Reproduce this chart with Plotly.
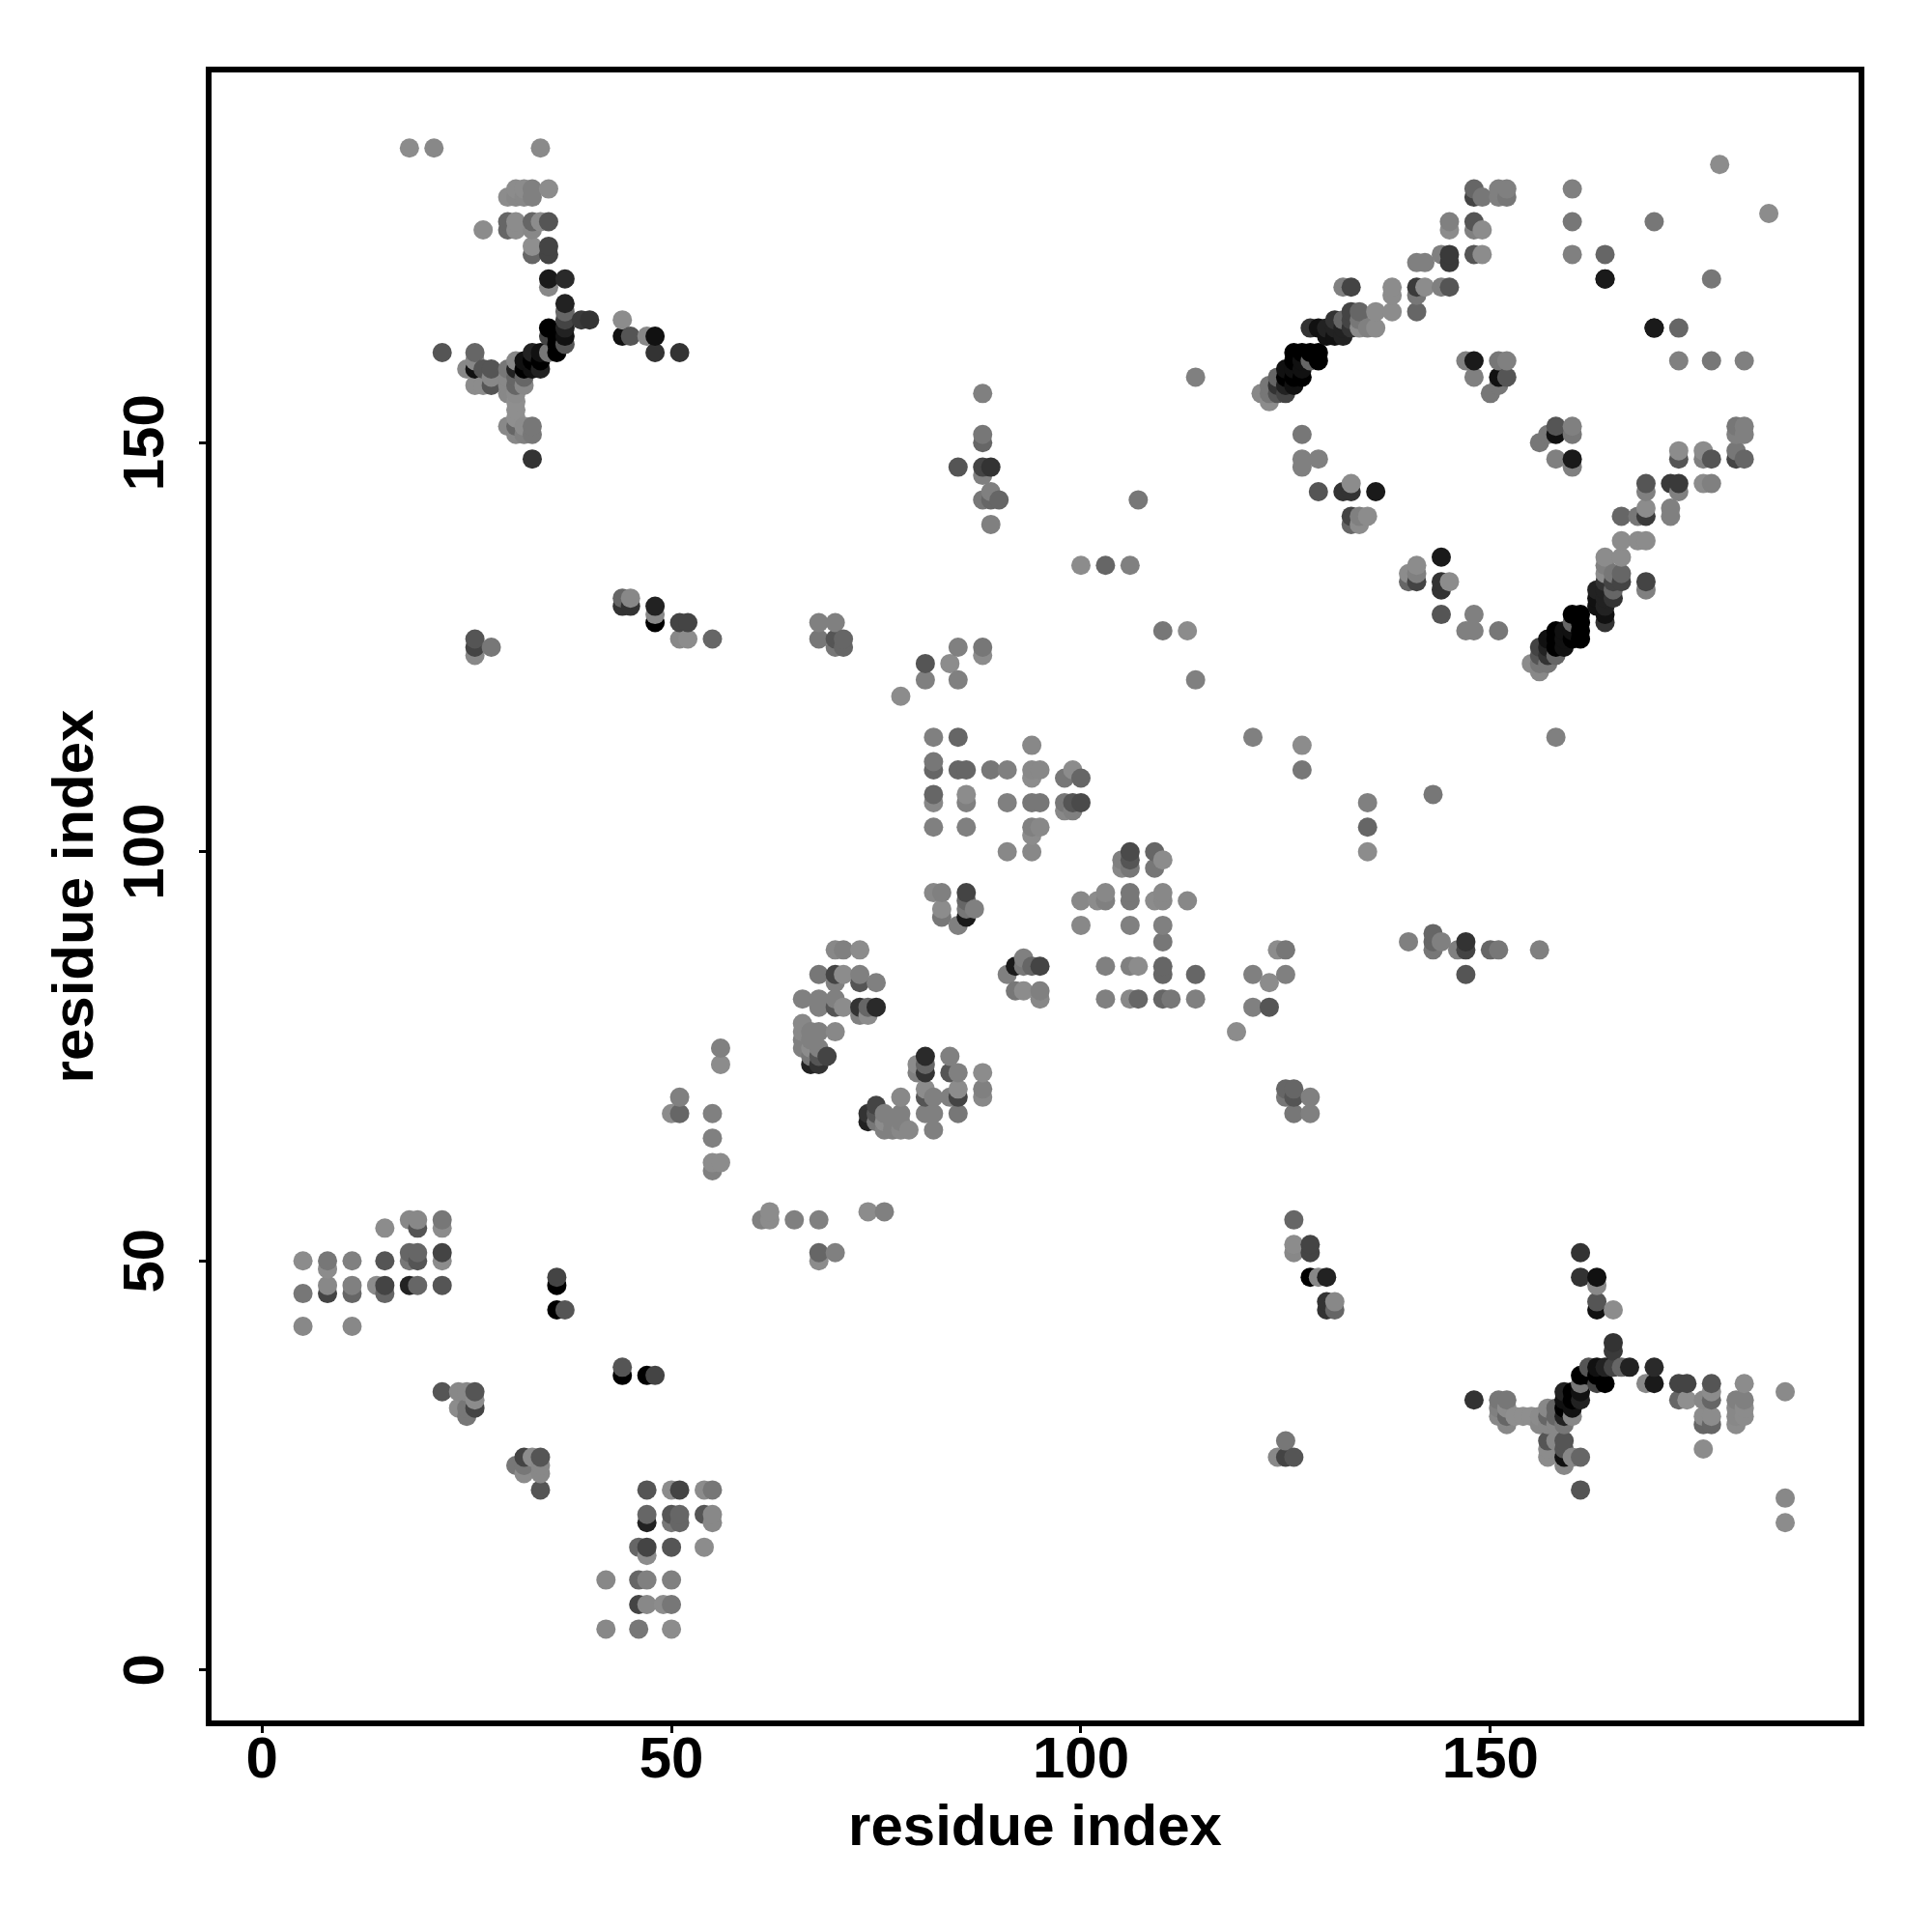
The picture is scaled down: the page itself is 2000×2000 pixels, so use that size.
import plotly.graph_objects as go

# Each contact is (i, j, grey level) with i < j; the map is symmetric, so it is also shown at (j, i).
far_corner = [(18, 186, 140), (21, 186, 136), (34, 186, 138), (178, 184, 140)]

helix_cross = [
    (31, 181, 140), (32, 181, 140), (33, 181, 128), (35, 181, 140),
    (30, 180, 140), (31, 180, 136), (32, 180, 136), (33, 180, 128),
    (30, 177, 102), (31, 177, 140), (33, 177, 102), (34, 177, 140), (35, 177, 85),
    (27, 176, 140), (30, 176, 102), (31, 176, 140), (33, 176, 136),
    (33, 174, 143), (35, 174, 68), (33, 173, 102), (35, 173, 68),
    (35, 170, 26), (37, 170, 42), (35, 169, 136), (37, 167, 34), (37, 166, 102),
    (37, 165, 68), (39, 165, 58), (40, 165, 51), (44, 165, 140),
    (35, 164, 0), (37, 164, 34),
    (35, 163, 68), (36, 163, 0), (37, 163, 17), (44, 163, 17), (45, 163, 85), (47, 163, 136), (48, 163, 17),
    (36, 162, 0), (37, 162, 85),
    (22, 161, 85), (26, 161, 102), (33, 161, 34), (34, 161, 17), (35, 161, 119), (36, 161, 0), (48, 161, 51), (51, 161, 51),
    (26, 160, 136), (31, 160, 136), (32, 160, 17), (33, 160, 0), (34, 160, 0),
    (25, 159, 136), (26, 159, 17), (27, 159, 85), (28, 159, 85), (30, 159, 119), (31, 159, 34), (32, 159, 0), (33, 159, 17), (34, 159, 34),
    (28, 158, 136), (30, 158, 136), (31, 158, 102), (32, 158, 102),
    (26, 157, 140), (27, 157, 140), (28, 157, 85), (30, 157, 136), (31, 157, 102), (32, 157, 136),
    (30, 156, 136), (31, 156, 140), (31, 155, 143), (31, 154, 143), (31, 153, 143),
    (30, 152, 136), (31, 152, 102), (32, 152, 140), (33, 152, 119),
    (31, 151, 136), (32, 151, 128), (33, 151, 119), (33, 148, 51),
]

mid_left = [
    (44, 131, 102), (45, 131, 136), (44, 130, 51), (45, 130, 51), (48, 130, 34), (48, 129, 136), (48, 128, 0),
    (51, 128, 68), (52, 128, 68), (51, 126, 136), (52, 126, 140), (55, 126, 102),
    (26, 126, 85), (26, 125, 68), (28, 125, 119), (26, 124, 136),
]

sheet_band = [
    (148, 181, 102), (151, 181, 128), (152, 181, 128), (160, 181, 128),
    (148, 180, 68), (149, 180, 119), (151, 180, 128), (152, 180, 119),
    (145, 177, 128), (148, 177, 85), (160, 177, 119), (170, 177, 119),
    (145, 176, 140), (148, 176, 128), (149, 176, 140),
    (144, 173, 128), (145, 173, 58), (148, 173, 85), (149, 173, 140), (160, 173, 128), (164, 173, 102),
    (141, 172, 128), (142, 172, 128), (145, 172, 58), (164, 170, 26),
    (132, 169, 128), (133, 169, 68), (138, 169, 140), (141, 169, 58), (142, 169, 140), (144, 169, 128), (145, 169, 85),
    (138, 168, 140), (141, 168, 119),
    (133, 166, 68), (134, 166, 102), (136, 166, 140), (138, 166, 140), (141, 166, 102),
    (131, 165, 51), (132, 165, 102), (133, 165, 68), (134, 165, 119),
    (128, 164, 51), (129, 164, 17), (130, 164, 34), (131, 164, 34), (132, 164, 34), (133, 164, 51),
    (134, 164, 140), (135, 164, 128), (136, 164, 140), (170, 164, 17), (173, 164, 102),
    (130, 163, 17), (131, 163, 17), (132, 163, 34),
    (126, 161, 0), (127, 161, 0), (128, 161, 0), (129, 161, 0),
    (126, 160, 0), (127, 160, 17), (128, 160, 102), (129, 160, 0), (147, 160, 128), (148, 160, 26),
    (151, 160, 119), (152, 160, 128), (173, 160, 128), (177, 160, 119), (181, 160, 128),
    (125, 159, 17), (126, 159, 17), (127, 159, 17),
    (124, 158, 102), (125, 158, 0), (126, 158, 0), (127, 158, 0), (148, 158, 128), (151, 158, 17), (152, 158, 85),
    (123, 157, 119), (124, 157, 51), (125, 157, 34), (126, 157, 17), (151, 157, 119),
    (122, 156, 136), (123, 156, 119), (124, 156, 85), (125, 156, 68), (150, 156, 119), (123, 155, 140),
    (127, 151, 119), (127, 148, 128), (129, 148, 128), (127, 147, 128), (133, 145, 140),
    (129, 144, 85), (132, 144, 51), (133, 144, 51), (136, 144, 26),
    (133, 141, 68), (134, 141, 128), (135, 141, 140), (133, 140, 102), (134, 140, 140),
]

scattered = [
    (114, 158, 128), (88, 156, 128), (88, 151, 119), (88, 150, 102),
    (85, 147, 85), (88, 147, 68), (89, 147, 51), (88, 146, 128), (89, 144, 128),
    (88, 143, 119), (89, 143, 102), (90, 143, 102), (107, 143, 119), (89, 140, 128),
    (100, 135, 140), (103, 135, 102), (106, 135, 128),
    (110, 127, 119), (113, 127, 140), (114, 121, 128),
    (81, 123, 85), (84, 123, 140), (81, 121, 128), (85, 121, 128), (85, 125, 128), (88, 125, 119), (88, 124, 140), (78, 119, 140),
    (68, 128, 128), (70, 128, 128), (68, 126, 119), (70, 126, 85), (71, 126, 102), (70, 125, 119), (71, 125, 102),
]

central_block = [
    (82, 114, 128), (85, 114, 102), (94, 113, 136), (82, 111, 119),
    (82, 110, 102), (85, 110, 102), (86, 110, 102), (89, 110, 119), (91, 110, 128), (94, 110, 136), (95, 110, 136), (99, 110, 140),
    (94, 109, 140), (98, 109, 119), (100, 109, 102), (82, 107, 102), (86, 107, 140),
    (82, 106, 136), (86, 106, 128), (91, 106, 128), (94, 106, 119), (95, 106, 119), (98, 106, 119), (99, 106, 85), (100, 106, 74),
    (98, 105, 136), (99, 105, 128), (82, 103, 128), (86, 103, 128), (94, 103, 128), (95, 103, 136), (94, 102, 140),
    (91, 100, 136), (94, 100, 136),
    (82, 95, 136), (83, 95, 128), (86, 95, 68), (86, 94, 102), (83, 93, 140), (86, 93, 119), (87, 93, 128),
    (83, 92, 119), (86, 92, 26), (85, 91, 128),
]

turn_block = [
    (70, 88, 136), (71, 88, 128), (73, 88, 140),
    (68, 85, 119), (70, 85, 68), (71, 85, 140), (73, 85, 128),
    (70, 84, 128), (73, 84, 85), (75, 84, 128),
    (66, 82, 128), (68, 82, 128), (70, 82, 128),
    (68, 81, 128), (70, 81, 85), (71, 81, 140), (73, 81, 51), (74, 81, 102), (75, 81, 42),
    (73, 80, 128), (74, 80, 140), (66, 79, 136),
    (66, 78, 136), (67, 78, 128), (68, 78, 128), (70, 78, 136),
    (66, 77, 128), (67, 77, 128), (66, 76, 128), (67, 76, 140), (68, 76, 128),
    (67, 75, 119), (68, 75, 85), (69, 75, 68), (67, 74, 34), (68, 74, 51),
    (55, 61, 128), (55, 62, 140), (56, 62, 140), (55, 65, 128),
    (50, 68, 140), (51, 68, 102), (55, 68, 128), (51, 70, 128), (56, 74, 140), (56, 76, 128),
]

low_left = [
    (18, 55, 136), (19, 55, 136), (22, 55, 119), (15, 54, 140), (19, 54, 85), (22, 54, 140),
    (18, 51, 102), (19, 51, 102), (22, 51, 68),
    (5, 50, 140), (8, 50, 119), (11, 50, 128), (15, 50, 85), (18, 50, 119), (19, 50, 85), (22, 50, 140),
    (8, 49, 140),
    (8, 47, 136), (11, 47, 128), (14, 47, 140), (15, 47, 68), (18, 47, 34), (19, 47, 102), (22, 47, 85),
    (5, 46, 119), (8, 46, 68), (11, 46, 102), (15, 46, 102), (5, 42, 136), (11, 42, 136),
    (36, 48, 68), (36, 47, 0), (36, 44, 0), (37, 44, 85),
    (22, 34, 85), (24, 34, 136), (25, 34, 136), (26, 34, 85), (26, 33, 140),
    (24, 32, 140), (25, 32, 119), (26, 32, 68), (25, 31, 119),
]

x_ticks = [0, 50, 100, 150]
y_ticks = [0, 50, 100, 150]
x_title = "residue index"
y_title = "residue index"

half = far_corner + helix_cross + mid_left + sheet_band + scattered + central_block + turn_block + low_left
points = sorted(set(half + [(j, i, s) for i, j, s in half]), key=lambda p: (p[0], p[1]))
xs = [p[0] for p in points]
ys = [p[1] for p in points]
colors = [f"rgb({p[2]},{p[2]},{p[2]})" for p in points]

FONT = dict(family="Liberation Sans", size=60, color="black", weight=700)

fig = go.Figure(go.Scatter(
    x=xs, y=ys, mode="markers",
    marker=dict(size=20, color=colors, line=dict(width=0)),
    showlegend=False, hoverinfo="skip",
))

axis = dict(
    showgrid=False, zeroline=False, mirror=True, showline=True,
    linecolor="black", linewidth=6,
    ticks="outside", ticklen=7, tickwidth=3, tickcolor="black",
    tickfont=FONT, tickmode="array",
)
fig.update_xaxes(
    **axis, range=[-6.16, 194.96], tickvals=x_ticks, ticklabelstandoff=-26, automargin=True,
    title=dict(text=x_title, font=FONT, standoff=18),
)
fig.update_yaxes(
    **axis, range=[-6.17, 195.24], tickvals=y_ticks, tickangle=-90,
    ticklabelstandoff=13, ticklabelshift=9,
    title=dict(text=y_title, font=FONT, standoff=1),
)
fig.update_layout(
    width=2000, height=2000, autosize=False,
    paper_bgcolor="white", plot_bgcolor="white",
    margin=dict(l=210.75, r=83.75, t=66.75, b=226.75, autoexpand=False),
)
fig.write_html("out.html")
